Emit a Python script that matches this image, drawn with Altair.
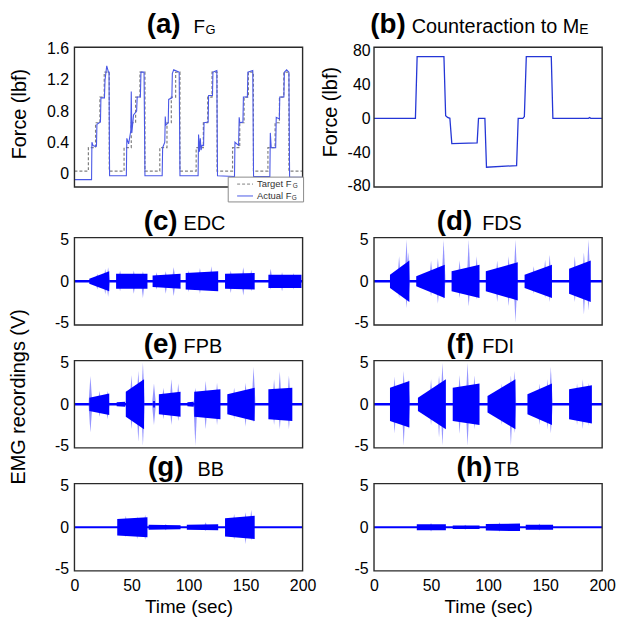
import altair as alt
import pandas as pd

FONT = "Liberation Sans"
PW = 230
H1 = 141
H2 = 88

# ---------------- (a) grip force ----------------
A_TARGET_T = [0, 12.2, 18.5, 22.3, 26.1, 30.5, 43.5, 49.8, 53.6, 57.4, 61.8,
              74.8, 81.1, 84.9, 88.7, 92.5, 106.7, 113.0, 116.8, 120.6, 125.0,
              138.6, 144.9, 148.7, 152.5, 156.9, 169.6, 175.9, 179.7, 183.5, 188.0, 200]
A_TARGET_V = [0.03,
              0.33, 0.65, 0.98, 1.30, 0.03,
              0.33, 0.65, 0.98, 1.30, 0.03,
              0.33, 0.65, 0.98, 1.30, 0.03,
              0.33, 0.65, 0.98, 1.30, 0.03,
              0.33, 0.65, 0.98, 1.30, 0.03,
              0.33, 0.65, 0.98, 1.30, 0.03,
              0.03]
A_ACT_T = [0, 15.0, 15.3, 16.2, 17.5, 19.3, 19.7, 22.8, 23.2, 26.3, 26.8, 28.3, 29.8, 30.3, 30.8,
           45.5, 45.9, 47.5, 49.4, 49.8, 50.3, 51.8, 54.5, 55.0, 57.8, 58.3, 61.0, 61.8,
           76.9, 77.3, 79.2, 79.6, 80.1, 82.2, 82.6, 85.4, 85.8, 87.0, 91.8, 92.5,
           108.4, 108.8, 109.6, 110.3, 111.0, 111.8, 113.2, 113.6, 117.2, 117.6, 121.0, 121.4, 124.8, 125.4,
           140.3, 140.7, 143.9, 144.4, 145.0, 147.7, 148.1, 151.6, 152.0, 156.3, 157.0,
           171.3, 171.7, 172.5, 176.4, 176.9, 179.6, 180.0, 183.6, 184.0, 186.0, 188.0, 188.6, 200]
A_ACT_V = [-0.08, -0.08, 0.40, 0.36, 0.35, 0.35, 0.63, 0.66, 0.97, 0.97, 1.20, 1.38, 1.30, 1.30, -0.03,
           -0.03, 0.45, 0.38, 0.55, 1.05, 0.52, 0.75, 0.80, 0.98, 0.98, 1.30, 1.30, -0.03,
           -0.03, 0.33, 0.40, 0.73, 0.62, 0.65, 0.95, 0.97, 1.28, 1.33, 1.30, -0.03,
           -0.03, 0.50, 0.28, 0.45, 0.30, 0.36, 0.36, 0.65, 0.66, 1.00, 1.00, 1.30, 1.32, -0.03,
           -0.04, 0.40, 0.36, 0.72, 0.65, 0.66, 0.98, 0.98, 1.30, 1.32, -0.04,
           -0.04, 0.52, 0.33, 0.33, 0.72, 0.70, 0.98, 0.98, 1.30, 1.33, 1.30, -0.05, -0.05]

# ---------------- (b) counteraction ----------------
B_T = [0, 36.3, 37.8, 61.3, 62.8, 64.5, 66.5, 68.2, 90.4, 91.6, 97.2, 98.6,
       125.0, 126.4, 130.5, 131.8, 133.5, 155.4, 156.8, 188.0, 189.0, 190.0, 200]
B_V = [0, 0, 73, 73, 3, 1, 0, -30, -29, 0, 0, -58,
       -56, 0, 0, 2, 73, 73, 0, 0, 1, 0, 0]

# ---------------- EMG: bursts (start, end, core half-amplitude at start / end) and spikes ----
EDC_START = [13, 36.5, 68.5, 97.5, 132, 170]
EDC_END = [30.5, 64, 93, 126, 158, 199]
EDC_C0 = [0.3, 0.9, 0.7, 1.0, 0.9, 0.8]
EDC_C1 = [1.2, 0.9, 0.9, 1.2, 1.0, 0.8]
EDC_SPK_T = [20, 27, 29.5, 40, 52, 60, 72, 80, 87, 100, 110, 120, 137, 148, 155, 172, 182, 192]
EDC_SPK_UP = [0.9, 1.5, 1.7, 1.3, 1.3, 1.2, 1.1, 1.2, 1.7, 1.3, 1.6, 1.8, 1.3, 1.7, 1.4, 1.5, 1.1, 1.0]
EDC_SPK_DN = [-1.0, -1.6, -1.9, -1.2, -1.5, -2.0, -1.0, -1.5, -1.8, -1.3, -1.5, -1.2, -1.4, -1.7, -1.2, -1.0, -1.2, -1.0]

FDS_START = [14, 37, 68, 98, 132, 171]
FDS_END = [31, 62, 92.5, 126, 156, 190]
FDS_C0 = [0.8, 0.6, 1.2, 1.2, 0.8, 1.5]
FDS_C1 = [2.5, 2.0, 2.0, 2.3, 2.0, 2.5]
FDS_SPK_T = [22, 28.5, 30, 50, 56, 61, 75, 83, 90, 108, 118, 124, 140, 150, 154, 176, 184, 188]
FDS_SPK_UP = [3.0, 5.0, 3.5, 2.5, 2.8, 5.0, 2.5, 5.0, 3.0, 2.5, 3.0, 5.0, 1.8, 2.6, 3.2, 3.0, 3.5, 5.0]
FDS_SPK_DN = [-2.0, -3.2, -2.5, -1.8, -2.7, -2.2, -2.0, -3.0, -2.2, -2.5, -3.0, -5.0, -1.5, -2.0, -2.5, -2.5, -4.0, -3.5]

FPB_START = [13, 37, 45, 69, 74, 99, 105, 134, 170]
FPB_END = [30.5, 44.5, 61, 70.5, 93, 104.5, 128, 158, 191]
FPB_C0 = [0.8, 0.25, 1.5, 0.4, 1.2, 0.25, 1.5, 1.2, 1.8]
FPB_C1 = [1.3, 0.3, 3.0, 0.4, 1.5, 0.3, 1.8, 2.0, 2.0]
FPB_SPK_T = [14, 22, 29, 50, 56, 60, 69.7, 78, 85, 91, 106, 115, 125, 140, 150, 157, 175, 180, 188]
FPB_SPK_UP = [3.4, 1.6, 1.6, 3.5, 4.0, 5.0, 2.5, 2.0, 3.0, 2.5, 2.0, 2.8, 2.6, 2.0, 2.6, 4.5, 3.0, 4.0, 3.5]
FPB_SPK_DN = [-3.4, -1.5, -1.8, -3.0, -4.5, -5.0, -2.5, -1.8, -2.5, -2.0, -5.0, -3.0, -2.5, -1.8, -2.7, -2.2, -2.5, -3.0, -3.0]

FDI_START = [14, 38.5, 69, 99.5, 134.5, 171]
FDI_END = [31, 63, 92.5, 124, 156, 191]
FDI_C0 = [2.0, 0.8, 2.0, 1.0, 1.2, 1.8]
FDI_C1 = [2.8, 3.0, 2.5, 3.0, 2.5, 2.3]
FDI_SPK_T = [18, 26, 30, 50, 57, 60, 75, 82, 88, 112, 120, 123, 145, 152, 155, 178, 183, 188]
FDI_SPK_UP = [3.3, 4.0, 3.0, 3.0, 3.5, 5.0, 3.5, 5.0, 3.5, 2.5, 3.5, 4.0, 2.5, 3.0, 4.5, 2.5, 3.0, 2.6]
FDI_SPK_DN = [-3.5, -5.0, -3.0, -2.5, -4.0, -5.0, -3.5, -5.0, -3.0, -2.5, -5.0, -3.5, -2.5, -3.0, -3.5, -2.5, -3.0, -2.6]

BB_START = [37.5, 65, 98.5, 132]
BB_END = [64, 93, 126, 158]
BB_C0 = [1.0, 0.3, 0.3, 1.1]
BB_C1 = [1.2, 0.25, 0.35, 1.4]
BB_SPK_T = [45, 55, 62, 80, 115, 140, 150, 155]
BB_SPK_UP = [1.4, 1.3, 1.5, 0.4, 0.6, 1.6, 1.8, 2.1]
BB_SPK_DN = [-1.2, -1.4, -1.5, -0.35, -0.45, -1.5, -2.0, -1.6]

TB_START = [37.5, 69, 98, 133]
TB_END = [63, 92.5, 128, 157]
TB_C0 = [0.35, 0.22, 0.4, 0.3]
TB_C1 = [0.35, 0.22, 0.45, 0.3]
TB_SPK_T = [50, 80, 110, 145]
TB_SPK_UP = [0.5, 0.3, 0.6, 0.45]
TB_SPK_DN = [-0.5, -0.3, -0.55, -0.4]

X_TICKS = [0, 50, 100, 150, 200]
EMG_TICKS = [-5, 0, 5]
BLUE = "#0000ff"
NOFRAME = alt.ViewBackground(stroke="transparent")

DUMMY = pd.DataFrame({"d": [0]})
LBL = "toString(datum.value)"


def frame(h):
    return alt.Chart(DUMMY).mark_rect(filled=False, stroke="#2a2a2a", strokeWidth=1.4).encode(
        x=alt.value(0), x2=alt.value(PW), y=alt.value(0), y2=alt.value(h))


def xenc(show):
    if show:
        ax = alt.Axis(values=X_TICKS, title="Time (sec)", labelFontSize=16, titleFontSize=19,
                      labelPadding=7, titlePadding=4, labelFlush=False, labelExpr=LBL,
                      titleFontWeight="normal")
    else:
        ax = None
    return alt.X("t:Q", scale=alt.Scale(domain=[0, 200], nice=False, zero=False), axis=ax)


def yaxis(ticks, title=None, tx=None, ty=None, pad=6):
    kw = dict(values=ticks, labelFontSize=16, labelPadding=pad, labelExpr=LBL)
    if title:
        kw.update(title=title, titleFontSize=20, titleX=tx, titleY=ty, titleAngle=270,
                  titleAlign="center", titleBaseline="middle", titleFontWeight="normal")
    else:
        kw.update(title=None)
    return alt.Axis(**kw)


def title_layers(lbl, lbl_x, name, name_x, base_y, sub=None, sub_x=None, name_size=20, sub_size=13):
    layers = [
        alt.Chart(DUMMY).mark_text(text=lbl, font=FONT, fontWeight="bold", fontSize=28,
                                   align="right", baseline="alphabetic", color="black")
        .encode(x=alt.value(lbl_x), y=alt.value(base_y)),
        alt.Chart(DUMMY).mark_text(text=name, font=FONT, fontSize=name_size,
                                   align="left", baseline="alphabetic", color="black")
        .encode(x=alt.value(name_x), y=alt.value(base_y)),
    ]
    if sub:
        layers.append(
            alt.Chart(DUMMY).mark_text(text=sub, font=FONT, fontSize=sub_size,
                                       align="left", baseline="alphabetic", color="black")
            .encode(x=alt.value(sub_x), y=alt.value(base_y + 1)))
    return layers


def emg_panel(starts, ends, c0, c1, st, su, sd, lbl, lbl_x, name, name_x,
              show_x=False, ytitle=None, base_y=-8, base=0.15):
    ysc = alt.Scale(domain=[-5.25, 5.25], nice=False, zero=False)
    xe = xenc(show_x)
    ya = yaxis(EMG_TICKS, ytitle, -56, 36) if ytitle else yaxis(EMG_TICKS)
    core = pd.DataFrame(dict(
        b=[i for i in range(len(starts)) for _ in (0, 1)],
        t=[v for pair in zip(starts, ends) for v in pair],
        hi=[v for pair in zip(c0, c1) for v in pair],
        lo=[-v for pair in zip(c0, c1) for v in pair]))
    # spikes: narrow triangles from the baseline to the spike tips
    spk = pd.DataFrame(dict(
        s=[i for i in range(len(st)) for _ in (0, 1, 2)],
        t=[v for t in st for v in (t - 1.7, t, t + 1.7)],
        hi=[v for u in su for v in (0, u, 0)],
        lo=[v for d in sd for v in (0, d, 0)]))
    bl = pd.DataFrame(dict(t=[0, 200], hi=[base, base], lo=[-base, -base]))

    y = alt.Y("hi:Q", scale=ysc, axis=ya)
    l_base = alt.Chart(bl).mark_area(color=BLUE, clip=True).encode(x=xe, y=y, y2="lo:Q")
    l_spk = alt.Chart(spk).mark_area(color="#2c2cff", opacity=0.5, clip=True).encode(
        x=xe, y=y, y2="lo:Q", detail="s:N")
    l_core = alt.Chart(core).mark_area(color=BLUE, clip=True).encode(
        x=xe, y=y, y2="lo:Q", detail="b:N")
    layers = [l_base, l_spk, l_core, frame(H2)] + title_layers(lbl, lbl_x, name, name_x, base_y)
    return alt.layer(*layers).properties(width=PW, height=H2, view=NOFRAME)


# ----- panel (a)
a_tgt = pd.DataFrame(dict(t=A_TARGET_T, v=A_TARGET_V))
a_act = pd.DataFrame(dict(t=A_ACT_T, v=A_ACT_V, i=list(range(len(A_ACT_T)))))
ysc_a = alt.Scale(domain=[-0.175, 1.62], nice=False, zero=False)
ya_a = yaxis([0, 0.4, 0.8, 1.2, 1.6], "Force (lbf)", -55, 67)
xa = xenc(False)
a_line_t = alt.Chart(a_tgt).mark_line(color="#808080", strokeDash=[3, 2], strokeWidth=1.2,
                                      interpolate="step-after", clip=True).encode(
    x=xa, y=alt.Y("v:Q", scale=ysc_a, axis=ya_a))
a_line_a = alt.Chart(a_act).mark_line(color="#4a58e6", strokeWidth=1.1, clip=True).encode(
    x=xa, y=alt.Y("v:Q", scale=ysc_a, axis=ya_a), order="i:Q")
leg_box = alt.Chart(DUMMY).mark_rect(fill="white", stroke="#8a8a8a", strokeWidth=1).encode(
    x=alt.value(155), x2=alt.value(231), y=alt.value(131), y2=alt.value(156))
leg_r1 = alt.Chart(DUMMY).mark_rule(color="#808080", strokeDash=[3, 2], strokeWidth=1).encode(
    x=alt.value(164), x2=alt.value(180), y=alt.value(138))
leg_r2 = alt.Chart(DUMMY).mark_rule(color="#4a58e6", strokeWidth=1).encode(
    x=alt.value(164), x2=alt.value(180), y=alt.value(150))
leg_t1 = alt.Chart(DUMMY).mark_text(text="Target F", font=FONT, fontSize=9.5, align="left",
                                    baseline="middle", color="#333").encode(
    x=alt.value(184), y=alt.value(138))
leg_s1 = alt.Chart(DUMMY).mark_text(text="G", font=FONT, fontSize=6.5, align="left",
                                    baseline="middle", color="#333").encode(
    x=alt.value(220), y=alt.value(140))
leg_t2 = alt.Chart(DUMMY).mark_text(text="Actual F", font=FONT, fontSize=9.5, align="left",
                                    baseline="middle", color="#333").encode(
    x=alt.value(184), y=alt.value(150))
leg_s2 = alt.Chart(DUMMY).mark_text(text="G", font=FONT, fontSize=6.5, align="left",
                                    baseline="middle", color="#333").encode(
    x=alt.value(219), y=alt.value(152))
pa = alt.layer(a_line_t, a_line_a, frame(H1), leg_box, leg_r1, leg_r2, leg_t1, leg_s1, leg_t2, leg_s2,
               *title_layers("(a)", 107, "F", 120, -14, sub="G", sub_x=132, name_size=19)
               ).properties(width=PW, height=H1, view=NOFRAME)

# ----- panel (b)
b_df = pd.DataFrame(dict(t=B_T, v=B_V, i=list(range(len(B_T)))))
ysc_b = alt.Scale(domain=[-81.5, 84.3], nice=False, zero=False)
ya_b = yaxis([-80, -40, 0, 40, 80], "Force (lbf)", -44, 65, pad=4)
pb = alt.layer(
    alt.Chart(b_df).mark_line(color="#2436d6", strokeWidth=1.3, clip=True).encode(
        x=xenc(False), y=alt.Y("v:Q", scale=ysc_b, axis=ya_b), order="i:Q"),
    frame(H1),
    *title_layers("(b)", 32, "Counteraction to M", 38, -14, sub="E", sub_x=207, name_size=20, sub_size=14)
).properties(width=PW, height=H1, view=NOFRAME)

pc = emg_panel(EDC_START, EDC_END, EDC_C0, EDC_C1, EDC_SPK_T, EDC_SPK_UP, EDC_SPK_DN,
               "(c)", 104, "EDC", 110)
pd_ = emg_panel(FDS_START, FDS_END, FDS_C0, FDS_C1, FDS_SPK_T, FDS_SPK_UP, FDS_SPK_DN,
                "(d)", 99, "FDS", 109)
pe = emg_panel(FPB_START, FPB_END, FPB_C0, FPB_C1, FPB_SPK_T, FPB_SPK_UP, FPB_SPK_DN,
               "(e)", 104, "FPB", 110, ytitle="EMG recordings (V)")
pf = emg_panel(FDI_START, FDI_END, FDI_C0, FDI_C1, FDI_SPK_T, FDI_SPK_UP, FDI_SPK_DN,
               "(f)", 101, "FDI", 109)
pg = emg_panel(BB_START, BB_END, BB_C0, BB_C1, BB_SPK_T, BB_SPK_UP, BB_SPK_DN,
               "(g)", 110, "BB", 124, show_x=True, base=0.12)
ph = emg_panel(TB_START, TB_END, TB_C0, TB_C1, TB_SPK_T, TB_SPK_UP, TB_SPK_DN,
               "(h)", 119, "TB", 121, show_x=True, base=0.12)


def spacer(h):
    return alt.Chart(DUMMY).mark_point(opacity=0).encode(
        x=alt.value(0), y=alt.value(0)).properties(width=PW, height=h, view=NOFRAME)


cells = [pa, pb, spacer(27), spacer(27), pc, pd_, spacer(12), spacer(12),
         pe, pf, spacer(12), spacer(12), pg, ph]

chart = alt.concat(*cells, columns=2, spacing={"row": 12, "column": 72},
                   bounds="flush", align="each").properties(
    padding={"left": 0, "top": 0, "right": 5, "bottom": 5},
    background="white"
).configure_axis(
    labelFont=FONT, titleFont=FONT, grid=False, domain=False, ticks=False,
    labelColor="black", titleColor="black", titleFontWeight="normal"
)

chart.save("out.html", embed_options={"renderer": "svg", "actions": False})
